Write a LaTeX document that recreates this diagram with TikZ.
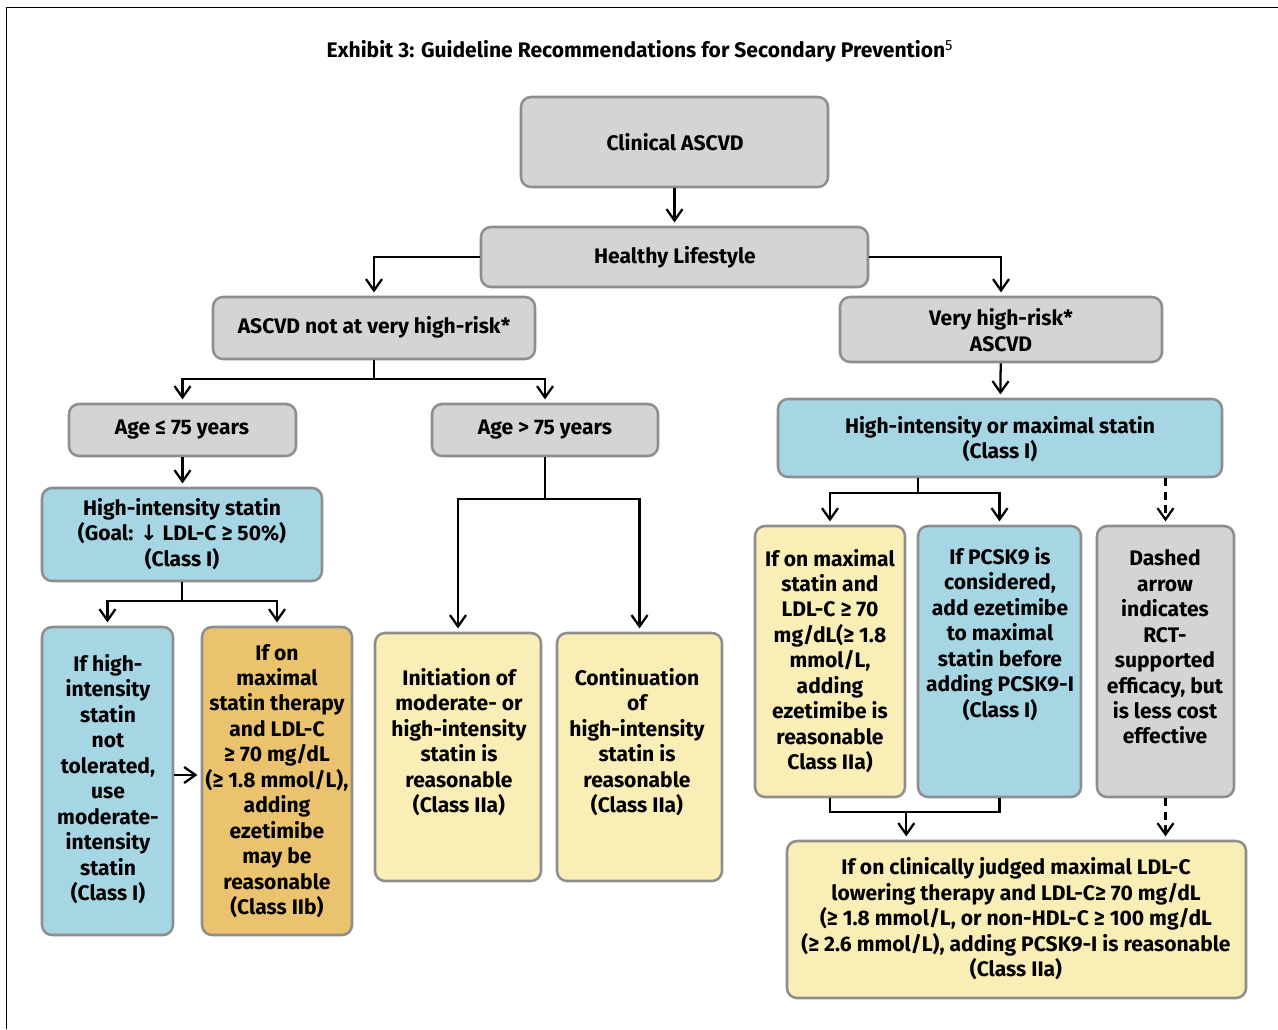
\documentclass[tikz,border=0pt]{standalone}
\usepackage{fontspec}
\setmainfont{Fira Sans}
\newfontfamily\symfont{DejaVu Sans}
\usetikzlibrary{arrows.meta,calc,fit}
\definecolor{boxgray}{HTML}{D3D4D6}
\definecolor{boxblue}{HTML}{A6D5E3}
\definecolor{boxyellow}{HTML}{F8EEB6}
\definecolor{boxorange}{HTML}{EBC36E}
\definecolor{edgegray}{HTML}{8E8E8E}
\begin{document}
\begin{tikzpicture}[x=0.75pt,y=-0.75pt,
  box/.style={draw=edgegray, line width=1.9pt, rounded corners=7.5pt, inner sep=0pt},
  txt/.style={align=center, font=\bfseries\fontsize{15.8}{19.1}\selectfont, inner sep=0pt},
  link/.style={line width=1.7pt},
  arr/.style={line width=1.7pt, -{Straight Barb[length=8.5pt,width=12pt,line width=1.7pt]}, shorten >=2.5pt},
  dashedlink/.style={dash pattern=on 6pt off 4pt}
]
\path[use as bounding box] (0,0) rectangle (1278,1029);
% open frame: top and left rules
\draw[line width=1.3pt] (6.5,1029) -- (6.5,7.5) -- (1278,7.5);

\node[font=\bfseries\fontsize{15.8}{18}\selectfont, inner sep=0pt] (title) at (640,51)
  {Exhibit 3: Guideline Recommendations for Secondary Prevention\textsuperscript{\mdseries 5}};

% boxes
\node[box, fill=boxgray,   fit={(521,97) (828,187)}]   (b1) {};
\node[box, fill=boxgray,   fit={(481,227) (868,287)}]  (b2) {};
\node[box, fill=boxgray,   fit={(213,297) (535,359)}]  (b3) {};
\node[box, fill=boxgray,   fit={(840,297) (1162,362)}] (b4) {};
\node[box, fill=boxgray,   fit={(69,404) (296,456)}]   (b5) {};
\node[box, fill=boxgray,   fit={(432,404) (658,456)}]  (b6) {};
\node[box, fill=boxblue,   fit={(778,399) (1222,477)}] (b7) {};
\node[box, fill=boxblue,   fit={(42,488) (322,581)}]   (b8) {};
\node[box, fill=boxblue,   fit={(42,627) (173,935)}]   (b9) {};
\node[box, fill=boxorange, fit={(202,627) (352,935)}]  (b10) {};
\node[box, fill=boxyellow, fit={(375,633) (541,881)}]  (b11) {};
\node[box, fill=boxyellow, fit={(557,633) (722,881)}]  (b12) {};
\node[box, fill=boxyellow, fit={(755,526) (905,797)}]  (b13) {};
\node[box, fill=boxblue,   fit={(918,526) (1081,797)}] (b14) {};
\node[box, fill=boxgray,   fit={(1097,526) (1234,797)}] (b15) {};
\node[box, fill=boxyellow, fit={(787,841) (1246,998)}] (b16) {};

% texts
\node[txt] (t1) at (675,142) {Clinical ASCVD};
\node[txt] (t2) at (675,257) {Healthy Lifestyle};
\node[txt] (t3) at (374,327) {ASCVD not at very high-risk*};
\node[txt] (t4) at (1001,330) {Very high-risk*\\ASCVD};
\node[txt] (t5) at (182,430) {Age ≤ 75 years};
\node[txt] (t6) at (545,430) {Age > 75 years};
\node[txt] (t7) at (1000,439) {High-intensity or maximal statin\\(Class I)};
\node[txt] (t8) at (182,534) {High-intensity statin\\(Goal: {\symfont ↓} LDL-C ≥ 50\%)\\(Class I)};
\node[txt] (t9) at (108,779) {If high-\\intensity\\statin\\not\\tolerated,\\use\\moderate-\\intensity\\statin\\(Class I)};
\node[txt] (t10) at (277,781) {If on\\maximal\\statin therapy\\and LDL-C\\≥ 70 mg/dL\\(≥ 1.8 mmol/L),\\adding\\ezetimibe\\may be\\reasonable\\(Class IIb)};
\node[txt] (t11) at (459,742) {Initiation of\\moderate- or\\high-intensity\\statin is\\reasonable\\(Class IIa)};
\node[txt] (t12) at (637,742) {Continuation\\of\\high-intensity\\statin is\\reasonable\\(Class IIa)};
\node[txt] (t13) at (830,661) {If on maximal\\statin and\\LDL-C ≥ 70\\mg/dL(≥ 1.8\\mmol/L,\\adding\\ezetimibe is\\reasonable\\Class IIa)};
\node[txt] (t14) at (1000,634) {If PCSK9 is\\considered,\\add ezetimibe\\to maximal\\statin before\\adding PCSK9-I\\(Class I)};
\node[txt] (t15) at (1165,647) {Dashed\\arrow\\indicates\\RCT-\\supported\\efficacy, but\\is less cost\\effective};
\node[txt] (t16) at (1016,919) {If on clinically judged maximal LDL-C\\lowering therapy and LDL-C≥ 70 mg/dL\\(≥ 1.8 mmol/L, or non-HDL-C ≥ 100 mg/dL\\(≥ 2.6 mmol/L), adding PCSK9-I is reasonable\\(Class IIa)};

% connectors
\draw[arr] (b1) -- (b2);
\draw[arr] (b2.west) -| (b3);
\draw[arr] (b2.east) -| (b4);
\draw[arr] (b3.south) -- ++(0,19) -| (b5);
\draw[arr] (b3.south) -- ++(0,19) -| (b6);
\draw[arr] (b5.south) -- (b5.south |- b8.north);
\draw[arr] (b8.south) -- ++(0,19) -| (b9);
\draw[arr] (b8.south) -- ++(0,19) -| (b10);
\draw[arr] (b9.east |- 0,775) -- (b10.west |- 0,775);
\draw[arr] (b6.south) -- ++(0,42) -| (b11);
\draw[arr] (b6.south) -- ++(0,42) -| (b12);
\draw[arr] (b4) -- (b7);
\draw[arr] ($(b7.south)+(-82,0)$) -- ++(0,15) -| (b13);
\draw[arr] ($(b7.south)+(-82,0)$) -- ++(0,15) -| (b14);
\draw[arr, dashedlink] (b7.south -| b15.north) -- (b15.north);
\draw[link] (b13.south) -- ++(0,14) -| (b14.south);
\path ($(b13.south)!0.45!(b14.south)$) ++(0,14) coordinate (jm);
\draw[arr] (jm) -- (jm |- b16.north);
\draw[arr, dashedlink] (b15.south) -- (b15.south |- b16.north);
\end{tikzpicture}
\end{document}
